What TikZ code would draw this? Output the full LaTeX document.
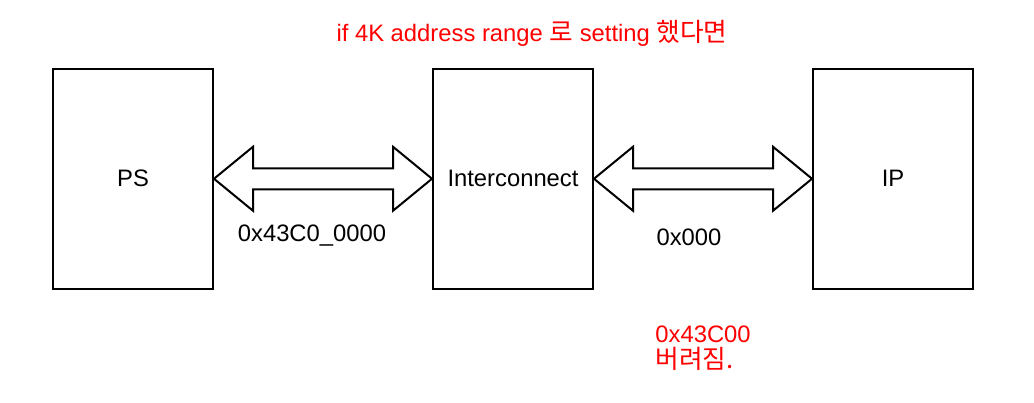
\documentclass[tikz,border=0pt]{standalone}
\usepackage{fontspec}
\setmainfont{Liberation Sans}
\newfontfamily\krfont[Scale=1.08]{Noto Sans CJK KR}
\usepackage{tikz}
\usetikzlibrary{calc}

\newcommand{\busarrow}[2]{%
  \draw[bus] (#1) -- ($(#1)+(39,-32)$) -- ($(#1)+(39,-10.5)$)
    -- ($(#2)+(-39,-10.5)$) -- ($(#2)+(-39,-32)$) -- (#2)
    -- ($(#2)+(-39,32)$) -- ($(#2)+(-39,10.5)$)
    -- ($(#1)+(39,10.5)$) -- ($(#1)+(39,32)$) -- cycle;}

\begin{document}
\begin{tikzpicture}[x=0.5pt, y=-0.5pt,
  block/.style={draw, line width=1pt, minimum width=80pt, minimum height=109.75pt,
    inner sep=0pt, font=\fontsize{11.9}{14}\selectfont},
  bus/.style={draw, line width=1pt, fill=white},
  addr/.style={font=\fontsize{11.9}{14}\selectfont},
  note/.style={text=red, font=\fontsize{11.9}{12.8}\selectfont, align=left}
]
  \useasboundingbox (0,0) rectangle (1034,402);
  \node[block] (ps) at (133,178.75) {PS};
  \node[block] (ic) at (513,178.75) {Interconnect};
  \node[block] (ip) at (893,178.75) {IP};
  \busarrow{ps.east}{ic.west}
  \busarrow{ic.east}{ip.west}
  \node[addr] (psaddr) at (312,236) {0x43C0\_0000};
  \node[addr] (ipaddr) at (689,237) {0x000};
  \node[note] (cond) at (532,33) {if 4K address range {\krfont 로} setting {\krfont 했다면}};
  \node[note, anchor=west, inner sep=0pt] (drop) at (655,348) {0x43C00\\{\krfont 버려짐.}};
\end{tikzpicture}
\end{document}
